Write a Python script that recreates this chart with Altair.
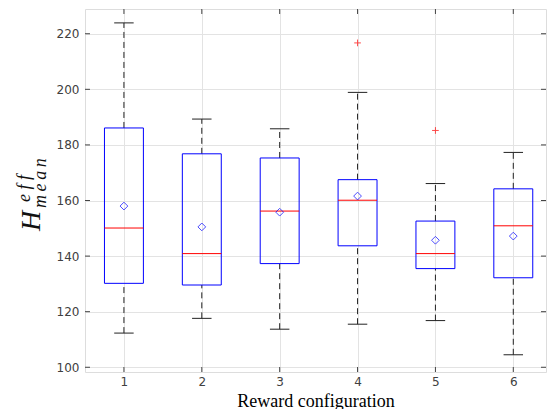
import altair as alt
import pandas as pd

configs = [1, 2, 3, 4, 5, 6]
whisker_low = [112.3, 117.6, 113.7, 115.5, 116.8, 104.5]
q1 = [130.2, 129.6, 137.3, 143.7, 135.5, 132.2]
medians = [150.1, 140.9, 156.2, 160.1, 140.9, 150.9]
q3 = [186.1, 176.8, 175.3, 167.5, 152.6, 164.2]
whisker_high = [223.9, 189.3, 185.8, 198.9, 166.1, 177.3]
means = [158.0, 150.5, 155.8, 161.6, 145.7, 147.2]
outlier_config = [4, 5]
outlier_value = [216.7, 185.2]
y_ticks = [100, 120, 140, 160, 180, 200, 220]

XDOM = [0.5, 6.42]
YDOM = [98.3, 228.9]
BOX_HALF = 0.25
CAP_HALF = 0.125

df = pd.DataFrame({
    "config": configs, "lo": whisker_low, "q1": q1, "med": medians,
    "q3": q3, "hi": whisker_high, "mean": means,
})
df["bx1"] = df["config"] - BOX_HALF
df["bx2"] = df["config"] + BOX_HALF
df["cx1"] = df["config"] - CAP_HALF
df["cx2"] = df["config"] + CAP_HALF

out_df = pd.DataFrame({"config": outlier_config, "value": outlier_value})

xs = alt.Scale(domain=XDOM, nice=False, zero=False)
ys = alt.Scale(domain=YDOM, nice=False, zero=False)

LABEL_COLOR = "#404040"
x_axis = alt.Axis(values=configs, format="d", grid=True, gridColor="#e3e3e3",
                  ticks=False, domain=False, labelFontSize=12, labelColor=LABEL_COLOR,
                  labelFont="DejaVu Sans", labelPadding=4,
                  title="Reward configuration", titleFont="Liberation Serif",
                  titleFontSize=18, titleFontWeight="normal", titleColor="#000000",
                  titleBaseline="alphabetic", titleY=34)
y_axis = alt.Axis(values=y_ticks, grid=True, gridColor="#e3e3e3", ticks=False,
                  domain=False, labelFontSize=12, labelColor=LABEL_COLOR,
                  labelFont="DejaVu Sans", labelPadding=6, title=None)

base = alt.Chart(df)

grid_layer = base.mark_point(opacity=0).encode(
    x=alt.X("config:Q", scale=xs, axis=x_axis),
    y=alt.Y("mean:Q", scale=ys, axis=y_axis),
)

whisk_up = base.mark_rule(color="#222222", strokeDash=[6, 4], strokeWidth=1).encode(
    x=alt.X("config:Q", scale=xs), y=alt.Y("q3:Q", scale=ys), y2="hi:Q")
whisk_dn = base.mark_rule(color="#222222", strokeDash=[6, 4], strokeWidth=1).encode(
    x=alt.X("config:Q", scale=xs), y=alt.Y("lo:Q", scale=ys), y2="q1:Q")
cap_hi = base.mark_rule(color="#222222", strokeWidth=1).encode(
    x=alt.X("cx1:Q", scale=xs), x2="cx2:Q", y=alt.Y("hi:Q", scale=ys))
cap_lo = base.mark_rule(color="#222222", strokeWidth=1).encode(
    x=alt.X("cx1:Q", scale=xs), x2="cx2:Q", y=alt.Y("lo:Q", scale=ys))
box = base.mark_rect(fillOpacity=0, fill="white", stroke="#0000ff", strokeWidth=1).encode(
    x=alt.X("bx1:Q", scale=xs), x2="bx2:Q", y=alt.Y("q1:Q", scale=ys), y2="q3:Q")
med = base.mark_rule(color="#ff0000", strokeWidth=1).encode(
    x=alt.X("bx1:Q", scale=xs), x2="bx2:Q", y=alt.Y("med:Q", scale=ys))
mean_pt = base.mark_point(shape="diamond", filled=False, color="#0000ff",
                          size=60, strokeWidth=1).encode(
    x=alt.X("config:Q", scale=xs), y=alt.Y("mean:Q", scale=ys))
outl = alt.Chart(out_df).mark_point(shape="M-1,0L1,0M0,-1L0,1", filled=False,
                                   color="#ff0000", size=45, strokeWidth=1).encode(
    x=alt.X("config:Q", scale=xs), y=alt.Y("value:Q", scale=ys))

# inward tick marks (MATLAB style)
ytick_df = pd.DataFrame({"v": y_ticks})
tick_dx = 5 / 78.0
tick_dy = 5 / 2.78
ytick_df["l1"] = XDOM[0]
ytick_df["l2"] = XDOM[0] + tick_dx
ytick_df["r1"] = XDOM[1] - tick_dx
ytick_df["r2"] = XDOM[1]
xtick_df = pd.DataFrame({"c": configs})
xtick_df["b1"] = YDOM[0]
xtick_df["b2"] = YDOM[0] + tick_dy
xtick_df["t1"] = YDOM[1] - tick_dy
xtick_df["t2"] = YDOM[1]

TC = "#444444"
ytl = alt.Chart(ytick_df).mark_rule(color=TC).encode(
    x=alt.X("l1:Q", scale=xs), x2="l2:Q", y=alt.Y("v:Q", scale=ys))
ytr = alt.Chart(ytick_df).mark_rule(color=TC).encode(
    x=alt.X("r1:Q", scale=xs), x2="r2:Q", y=alt.Y("v:Q", scale=ys))
xtb = alt.Chart(xtick_df).mark_rule(color=TC).encode(
    x=alt.X("c:Q", scale=xs), y=alt.Y("b1:Q", scale=ys), y2="b2:Q")
xtt = alt.Chart(xtick_df).mark_rule(color=TC).encode(
    x=alt.X("c:Q", scale=xs), y=alt.Y("t1:Q", scale=ys), y2="t2:Q")

# y title: H^{eff}_{mean}
title_H = alt.Chart(pd.DataFrame({"t": ["H"]})).mark_text(
    font="Liberation Serif", fontStyle="italic", fontWeight="normal", fontSize=28,
    angle=270, align="center", baseline="middle", color="#111111").encode(
    text="t:N", x=alt.value(-53), y=alt.value(212))
title_eff = alt.Chart(pd.DataFrame({"t": ["e f f"]})).mark_text(
    font="Liberation Serif", fontStyle="italic", fontWeight="normal", fontSize=18,
    angle=270, align="left", baseline="middle", color="#111111").encode(
    text="t:N", x=alt.value(-60), y=alt.value(193))
title_mean = alt.Chart(pd.DataFrame({"t": ["m\u2009e\u2009a\u2009n"]})).mark_text(
    font="Liberation Serif", fontStyle="italic", fontWeight="normal", fontSize=18,
    angle=270, align="left", baseline="middle", color="#111111").encode(
    text="t:N", x=alt.value(-44), y=alt.value(199))

chart = alt.layer(
    grid_layer, whisk_up, whisk_dn, cap_hi, cap_lo, box, med, mean_pt, outl,
    ytl, ytr, xtb, xtt, title_H, title_eff, title_mean,
).properties(
    width=461, height=363,
    autosize=alt.AutoSizeParams(type="none"),
    padding={"left": 77, "top": 1, "right": 1, "bottom": 37},
).configure_view(
    stroke="#262626", strokeWidth=1,
).configure(background="white")

chart.save("out.html", embed_options={"renderer": "svg", "actions": False})
